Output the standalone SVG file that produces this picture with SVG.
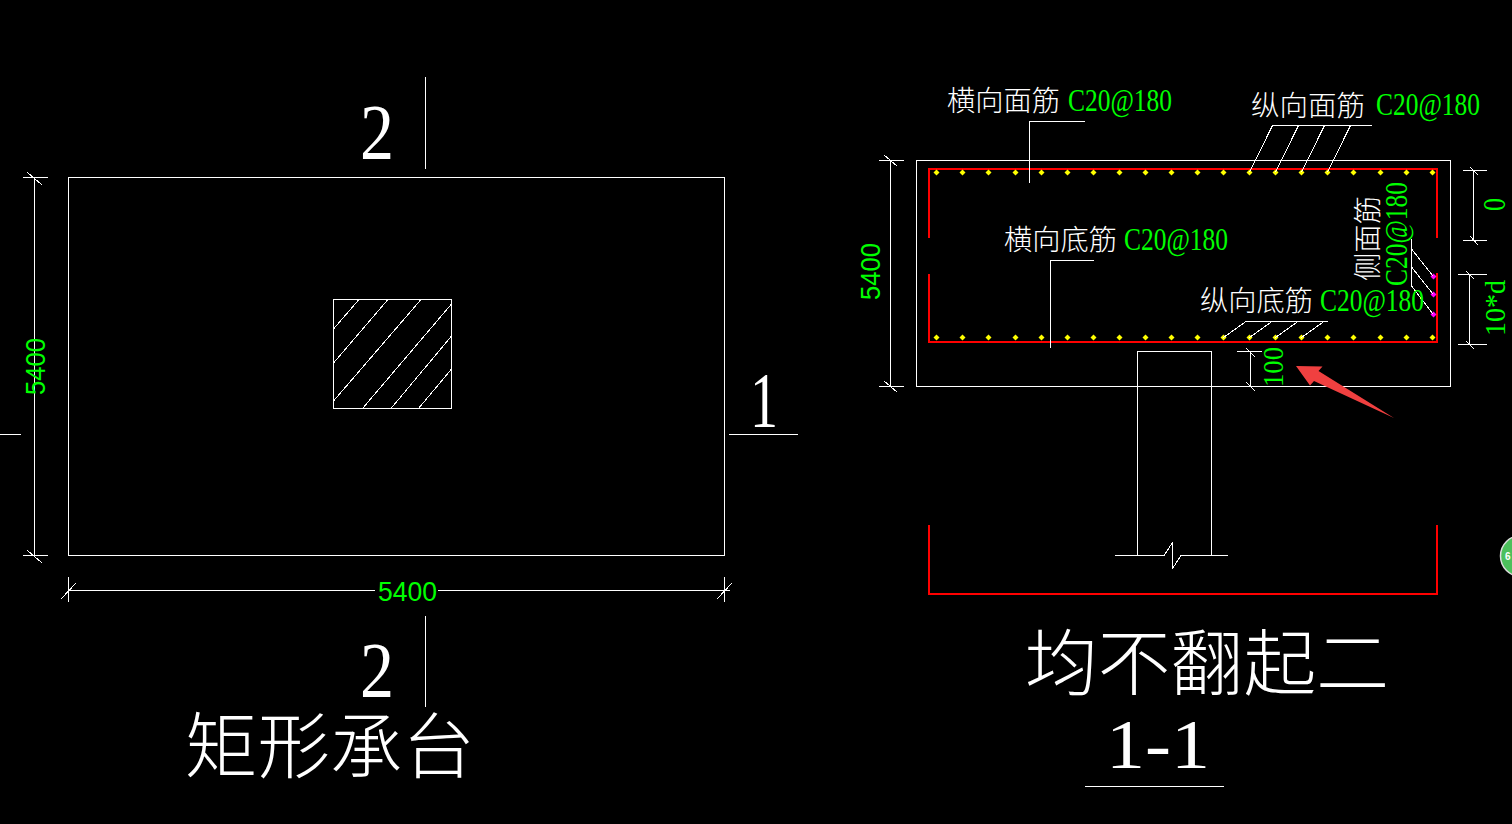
<svg xmlns="http://www.w3.org/2000/svg" width="1512" height="824" viewBox="0 0 1512 824">
<style>
.l{fill:none;stroke:#fff;stroke-width:1;shape-rendering:crispEdges}
.r{fill:none;stroke:#f00;stroke-width:2;shape-rendering:crispEdges}
.cjk{font-family:"Noto Sans CJK SC","Noto Sans CJK JP",sans-serif;fill:#fff;font-weight:300}
.g{font-family:"Liberation Serif",serif;fill:#0f0}
.s{font-family:"Liberation Sans",sans-serif;fill:#0f0}
.w{font-family:"Liberation Serif",serif;fill:#fff}
</style>
<defs>
<polygon id="y" points="0,-3 3,0 0,3 -3,0" fill="#ff0"/>
<polygon id="m" points="0,-3 3,0 0,3 -3,0" fill="#f0f"/>
</defs>
<rect width="1512" height="824" fill="#000"/>
<g id="plan">
<rect class="l" x="68.5" y="177.5" width="656" height="378"/>
<g id="column-plan">
<rect class="l" x="333.5" y="299.5" width="118" height="109"/>
<path class="l" d="M333.5 329L359 299.5M333.5 363L388 299.5M333.5 401L421 299.5M362.5 408.5L451.5 304M391 408.5L451.5 336M418.5 408.5L451.5 369"/>
</g>
<g id="section-marks">
<path class="l" d="M425.5 77V169M425.5 616V707M729 434.5H798M0 434.5H21"/>
<text class="w" x="360" y="158" font-size="78" textLength="34" lengthAdjust="spacingAndGlyphs">2</text>
<text class="w" x="360" y="696" font-size="78" textLength="34" lengthAdjust="spacingAndGlyphs">2</text>
<text class="w" x="750" y="426" font-size="78" textLength="28" lengthAdjust="spacingAndGlyphs">1</text>
</g>
<g id="plan-dimensions">
<path class="l" d="M34.5 177.5V555.5M23 177.5H48M23 555.5H48M27 172L42 185M27 550L42 563"/>
<path class="l" d="M68.5 590.5H375M438 590.5H730M68.5 577V602M724.5 577V602M61 599L76 583M717 599L732 583"/>
<text class="s" transform="translate(45 395) rotate(-90)" font-size="27" textLength="57" lengthAdjust="spacingAndGlyphs">5400</text>
<text class="s" x="378" y="601" font-size="27" textLength="59" lengthAdjust="spacingAndGlyphs">5400</text>
</g>
<text id="plan-title" class="cjk" x="185" y="772" font-size="72" textLength="290" lengthAdjust="spacingAndGlyphs">矩形承台</text>
</g>
<g id="section">
<rect class="l" x="916.5" y="160.5" width="534" height="226"/>
<g id="rebar">
<path class="r" d="M929 238V169H1437V238M929 274V341.5H1437V273"/>
<path class="r" d="M929 525V593.5H1437V525"/>
</g>
<g id="bars">
<use href="#y" x="936.5" y="172.5"/><use href="#y" x="962.5" y="172.5"/><use href="#y" x="988.5" y="172.5"/><use href="#y" x="1015.5" y="172.5"/><use href="#y" x="1041.5" y="172.5"/><use href="#y" x="1067.5" y="172.5"/><use href="#y" x="1093.5" y="172.5"/><use href="#y" x="1119.5" y="172.5"/><use href="#y" x="1145.5" y="172.5"/><use href="#y" x="1171.5" y="172.5"/><use href="#y" x="1197.5" y="172.5"/><use href="#y" x="1223.5" y="172.5"/><use href="#y" x="1249.5" y="172.5"/><use href="#y" x="1275.5" y="172.5"/><use href="#y" x="1301.5" y="172.5"/><use href="#y" x="1327.5" y="172.5"/><use href="#y" x="1353.5" y="172.5"/><use href="#y" x="1380.5" y="172.5"/><use href="#y" x="1406.5" y="172.5"/><use href="#y" x="1432.5" y="172.5"/>
<use href="#y" x="936.5" y="337.5"/><use href="#y" x="962.5" y="337.5"/><use href="#y" x="988.5" y="337.5"/><use href="#y" x="1015.5" y="337.5"/><use href="#y" x="1041.5" y="337.5"/><use href="#y" x="1067.5" y="337.5"/><use href="#y" x="1093.5" y="337.5"/><use href="#y" x="1119.5" y="337.5"/><use href="#y" x="1145.5" y="337.5"/><use href="#y" x="1171.5" y="337.5"/><use href="#y" x="1197.5" y="337.5"/><use href="#y" x="1223.5" y="337.5"/><use href="#y" x="1249.5" y="337.5"/><use href="#y" x="1275.5" y="337.5"/><use href="#y" x="1301.5" y="337.5"/><use href="#y" x="1327.5" y="337.5"/><use href="#y" x="1353.5" y="337.5"/><use href="#y" x="1380.5" y="337.5"/><use href="#y" x="1406.5" y="337.5"/><use href="#y" x="1432.5" y="337.5"/>
<use href="#m" x="1433.5" y="276.5"/><use href="#m" x="1433.5" y="294.5"/><use href="#m" x="1433.5" y="314.5"/>
</g>
<g id="column-section">
<path class="l" d="M1137.5 555.5V351.5H1211.5V555.5M1115 555.5H1164L1172.5 542.5V568.5L1181 555.5H1228"/>
</g>
<g id="leaders">
<path class="l" d="M1085 121.5H1029.5V183M1094 260.5H1050.5V347.5"/>
<path class="l" d="M1371.5 125.5H1272.5L1249.5 172M1298.5 125.5L1275.5 172M1324.5 125.5L1301.5 172M1350.5 125.5L1327.5 172"/>
<path class="l" d="M1327.5 321.5H1246L1223.5 337.5M1272 321.5L1249.5 337.5M1298 321.5L1275.5 337.5M1324 321.5L1301.5 337.5"/>
<path class="l" d="M1411.5 239V287M1411.5 249L1433 276M1411.5 267L1433 294M1411.5 286L1433 314"/>
</g>
<g id="section-dimensions">
<path class="l" d="M890.5 160.5V386.5M879 160.5H904M879 386.5H904M884 381L897 392M884 155L897 166"/>
<path class="l" d="M1473.5 170V240M1463 170H1487M1463 240H1487M1470 167L1478 175M1470 236L1478 245"/>
<path class="l" d="M1469.5 274V344.5M1458 274H1487M1458 344.5H1487M1466 271L1474 279M1466 341L1474 349"/>
<path class="l" d="M1250.5 351.5V386.5M1237 351.5H1262M1246 348L1255 357M1246 382L1255 391"/>
<text class="s" transform="translate(880 300) rotate(-90)" font-size="27" textLength="57" lengthAdjust="spacingAndGlyphs">5400</text>
<text class="g" transform="translate(1505 211) rotate(-90)" font-size="31" textLength="13" lengthAdjust="spacingAndGlyphs">0</text>
<text class="g" transform="translate(1505 336) rotate(-90)" font-size="30" textLength="56" lengthAdjust="spacingAndGlyphs">10*d</text>
<text class="g" transform="translate(1283 387) rotate(-90)" font-size="30" textLength="40" lengthAdjust="spacingAndGlyphs">100</text>
</g>
<g id="labels">
<text class="cjk" x="947" y="111" font-size="28" textLength="113" lengthAdjust="spacingAndGlyphs">横向面筋</text>
<text class="g" x="1068" y="111" font-size="31" textLength="104" lengthAdjust="spacingAndGlyphs">C20@180</text>
<text class="cjk" x="1251" y="116" font-size="28" textLength="114" lengthAdjust="spacingAndGlyphs">纵向面筋</text>
<text class="g" x="1376" y="115" font-size="31" textLength="104" lengthAdjust="spacingAndGlyphs">C20@180</text>
<text class="cjk" x="1004" y="250" font-size="28" textLength="113" lengthAdjust="spacingAndGlyphs">横向底筋</text>
<text class="g" x="1124" y="250" font-size="31" textLength="104" lengthAdjust="spacingAndGlyphs">C20@180</text>
<text class="cjk" x="1200" y="311" font-size="28" textLength="113" lengthAdjust="spacingAndGlyphs">纵向底筋</text>
<text class="g" x="1320" y="311" font-size="31" textLength="104" lengthAdjust="spacingAndGlyphs">C20@180</text>
<text class="cjk" transform="translate(1378 281) rotate(-90)" font-size="28" textLength="85" lengthAdjust="spacingAndGlyphs">侧面筋</text>
<text class="g" transform="translate(1407 286) rotate(-90)" font-size="31" textLength="104" lengthAdjust="spacingAndGlyphs">C20@180</text>
</g>
<text id="section-note" class="cjk" x="1025" y="689" font-size="72" textLength="364" lengthAdjust="spacingAndGlyphs">均不翻起二</text>
<g id="section-title">
<text class="w" x="1106" y="768" font-size="70" textLength="104" lengthAdjust="spacingAndGlyphs">1-1</text>
<path class="l" d="M1085 786.5H1224"/>
</g>
</g>
<polygon id="red-arrow" points="1296,366 1322.5,366.5 1318.5,371 1394,418 1314,381 1310,385.5" fill="#f04040"/>
<g id="badge">
<circle cx="1521" cy="556" r="20.5" fill="#4cc05c" stroke="#ddd" stroke-width="1.5"/>
<text x="1505" y="560" font-family="Liberation Sans,sans-serif" font-size="10" font-weight="700" fill="#fff">6</text>
</g>
</svg>
